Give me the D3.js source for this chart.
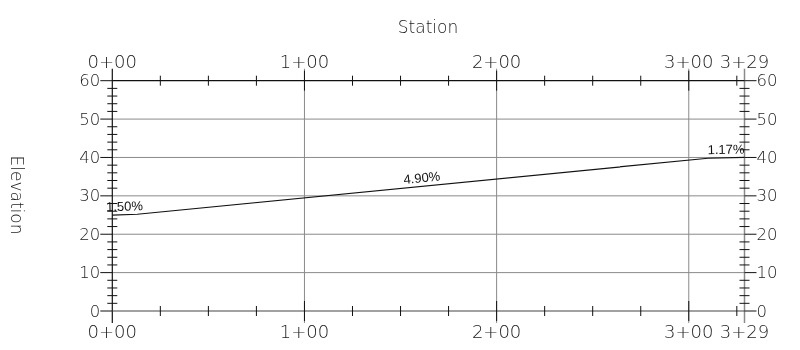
<!DOCTYPE html>
<html><head><meta charset="utf-8">
<script src="https://cdn.jsdelivr.net/npm/d3@7"></script>
<style>body{margin:0;background:#fff}svg{display:block}.t{opacity:0.995}</style>
</head><body>
<svg id="c" width="800" height="350"></svg>
<script>
// Data
const stations = [0, 13, 310, 329];
const elevations = [25.0, 25.2, 39.8, 40.0];
const grades = ["1.50%", "4.90%", "1.17%"];
const stationTicks = [0, 100, 200, 300, 329];
const stationLabels = ["0+00", "1+00", "2+00", "3+00", "3+29"];
const elevTicks = [0, 10, 20, 30, 40, 50, 60];
const elevLabels = ["0", "10", "20", "30", "40", "50", "60"];
const xTitle = "Station";
const yTitle = "Elevation";

const svg = d3.select("#c");
const x = d3.scaleLinear().domain([0, 329]).range([112.3, 744.5]);
const y = d3.scaleLinear().domain([0, 60]).range([311, 80.7]);
const thin = "'DejaVu Sans', sans-serif";
const txtCol = "#1a1a1a";

// horizontal grid
svg.append("g").selectAll("line").data(elevTicks.filter(d => d > 0 && d < 60)).join("line")
  .attr("x1", x(0)).attr("x2", x(329)).attr("y1", d => y(d)).attr("y2", d => y(d))
  .attr("stroke", "#8a8a8a").attr("stroke-width", 1);
// vertical grid
svg.append("g").selectAll("line").data([100, 200, 300]).join("line")
  .attr("x1", d => x(d)).attr("x2", d => x(d)).attr("y1", y(60) - 12).attr("y2", y(0) + 12)
  .attr("stroke", "#8a8a8a").attr("stroke-width", 1);
// right axis line
svg.append("line").attr("x1", x(329)).attr("x2", x(329)).attr("y1", y(60) - 12).attr("y2", y(0) + 12)
  .attr("stroke", "#8a8a8a").attr("stroke-width", 1.5);
// left axis line
svg.append("line").attr("x1", x(0)).attr("x2", x(0)).attr("y1", y(60) - 12).attr("y2", y(0) + 12)
  .attr("stroke", "#111").attr("stroke-width", 1.2);
// top & bottom axis lines
[60, 0].forEach(v => svg.append("line").attr("x1", x(0)).attr("x2", x(329)).attr("y1", y(v)).attr("y2", y(v))
  .attr("stroke", v === 60 ? "#111" : "#444").attr("stroke-width", 1.2));

// x minor ticks every 25
const xMinor = d3.range(25, 329, 25).filter(d => d % 100 !== 0);
[60, 0].forEach(v => {
  svg.append("g").selectAll("line").data(xMinor).join("line")
    .attr("x1", d => x(d)).attr("x2", d => x(d)).attr("y1", y(v) - 5).attr("y2", y(v) + 5)
    .attr("stroke", "#111").attr("stroke-width", 1);
  svg.append("g").selectAll("line").data([100, 200, 300]).join("line")
    .attr("x1", d => x(d)).attr("x2", d => x(d)).attr("y1", y(v) - 10).attr("y2", y(v) + 10)
    .attr("stroke", "#111").attr("stroke-width", 1);
});
// y minor ticks every 2
const yMinor = d3.range(2, 60, 2).filter(d => d % 10 !== 0);
[0, 329].forEach(s => {
  svg.append("g").selectAll("line").data(yMinor).join("line")
    .attr("x1", x(s) - 5).attr("x2", x(s) + 5).attr("y1", d => y(d)).attr("y2", d => y(d))
    .attr("stroke", "#111").attr("stroke-width", 1);
});
// y major ticks
svg.append("g").selectAll("line").data(elevTicks).join("line")
  .attr("x1", x(0) - 12).attr("x2", x(0)).attr("y1", d => y(d)).attr("y2", d => y(d))
  .attr("stroke", "#111").attr("stroke-width", 1);
svg.append("g").selectAll("line").data(elevTicks).join("line")
  .attr("x1", x(329)).attr("x2", x(329) + 12).attr("y1", d => y(d)).attr("y2", d => y(d))
  .attr("stroke", "#111").attr("stroke-width", 1);

const tg = svg.append("g").attr("class", "t");
// y labels
tg.append("g").selectAll("text").data(elevTicks).join("text")
  .attr("x", x(0) - 12).attr("y", d => y(d)).attr("dy", "0.34em")
  .attr("text-anchor", "end").attr("font-family", thin).attr("font-weight", 200)
  .attr("font-size", 16.5).attr("fill", txtCol).text((d, i) => elevLabels[i]);
tg.append("g").selectAll("text").data(elevTicks).join("text")
  .attr("x", x(329) + 12).attr("y", d => y(d)).attr("dy", "0.34em")
  .attr("text-anchor", "start").attr("font-family", thin).attr("font-weight", 200)
  .attr("font-size", 16.5).attr("fill", txtCol).text((d, i) => elevLabels[i]);
// x labels
[68, 337.5].forEach(yy => {
  tg.append("g").selectAll("text").data(stationTicks).join("text")
    .attr("x", d => x(d)).attr("y", yy)
    .attr("text-anchor", "middle").attr("font-family", thin).attr("font-weight", 200)
    .attr("font-size", 18).attr("fill", txtCol).text((d, i) => stationLabels[i]);
});
// titles
tg.append("text").attr("x", 428).attr("y", 33).attr("text-anchor", "middle")
  .attr("font-family", thin).attr("font-weight", 200).attr("font-size", 17).attr("fill", txtCol).text(xTitle);
tg.append("text").attr("transform", "translate(11,195) rotate(90)").attr("text-anchor", "middle")
  .attr("font-family", thin).attr("font-weight", 200).attr("font-size", 17).attr("fill", txtCol).text(yTitle);

// profile line
const pts = stations.map((s, i) => [s, elevations[i]]);
svg.append("path").datum(pts)
  .attr("d", d3.line().x(d => x(d[0])).y(d => y(d[1])))
  .attr("fill", "none").attr("stroke", "#111").attr("stroke-width", 1.2);

// grade labels
grades.forEach((g, i) => {
  const x0 = x(stations[i]), x1 = x(stations[i + 1]);
  const y0 = y(elevations[i]), y1 = y(elevations[i + 1]);
  const mx = (x0 + x1) / 2, my = (y0 + y1) / 2;
  const ang = Math.atan2(y1 - y0, x1 - x0) * 180 / Math.PI;
  tg.append("text").attr("transform", `translate(${mx},${my}) rotate(${ang})`)
    .attr("y", -4).attr("text-anchor", "middle")
    .attr("font-family", "'Liberation Sans', Arial, sans-serif").attr("font-size", 13)
    .attr("fill", "#111").text(g);
});
</script>
</body></html>
